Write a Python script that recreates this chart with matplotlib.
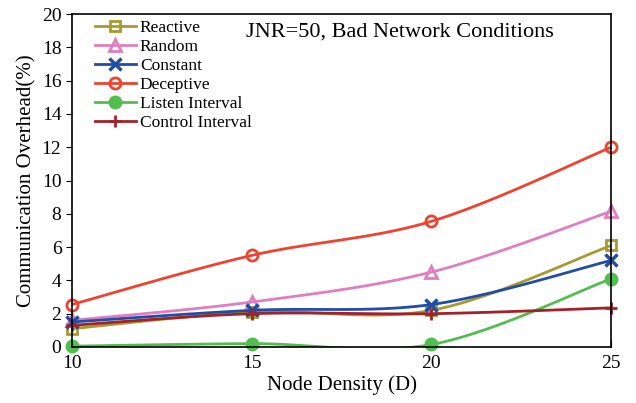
import numpy as np
import matplotlib.pyplot as plt

plt.rcParams['font.family'] = ['Liberation Serif', 'DejaVu Serif']

density = [10, 15, 20, 25]

reactive = [1.1, 2.1, 2.2, 6.1]
random_ = [1.6, 2.7, 4.5, 8.15]
constant = [1.5, 2.2, 2.55, 5.2]
deceptive = [2.55, 5.5, 7.55, 12.0]
listen = [0.05, 0.2, 0.15, 4.1]
control = [1.3, 2.0, 2.0, 2.35]


def smooth(x, y, n=40):
    # Bezier smoothing through every point (tangent = neighbour slope / 6)
    x = np.asarray(x, float)
    y = np.asarray(y, float)
    px = np.concatenate([[x[0]], x, [x[-1]]])
    py = np.concatenate([[y[0]], y, [y[-1]]])
    xs, ys = [], []
    t = np.linspace(0, 1, n)
    for i in range(1, len(px) - 2):
        p0 = np.array([px[i], py[i]])
        p3 = np.array([px[i + 1], py[i + 1]])
        p1 = p0 + (np.array([px[i + 1], py[i + 1]]) - np.array([px[i - 1], py[i - 1]])) / 6
        p2 = p3 - (np.array([px[i + 2], py[i + 2]]) - np.array([px[i], py[i]])) / 6
        b = ((1 - t) ** 3)[:, None] * p0 + (3 * (1 - t) ** 2 * t)[:, None] * p1 \
            + (3 * (1 - t) * t ** 2)[:, None] * p2 + (t ** 3)[:, None] * p3
        xs.append(b[:, 0])
        ys.append(b[:, 1])
    return np.concatenate(xs), np.concatenate(ys)


series = [
    ('Reactive', reactive, '#a89a2e', dict(marker='s', mfc='none', ms=7, mew=2)),
    ('Random', random_, '#e07ec0', dict(marker='^', mfc='none', ms=8, mew=2)),
    ('Constant', constant, '#1f4ea6', dict(marker='x', ms=8, mew=2.5)),
    ('Deceptive', deceptive, '#f0432f', dict(marker='o', mfc='none', ms=8, mew=2)),
    ('Listen Interval', listen, '#52be4f', dict(marker='o', ms=9)),
    ('Control Interval', control, '#a3222a', dict(marker='+', ms=9, mew=2)),
]

fig, ax = plt.subplots(figsize=(6.36, 4.03), dpi=100)
fig.subplots_adjust(left=0.113, right=0.961, top=0.965, bottom=0.139)

for name, vals, color, mk in series:
    sx, sy = smooth(density, vals)
    ax.plot(sx, sy, color=color, lw=2, clip_on=True)
    ax.plot(density, vals, color=color, lw=0, clip_on=False, **mk)
    ax.plot([], [], color=color, lw=2, label=name, **mk)

ax.set_xlim(10, 25)
ax.set_ylim(0, 20)
ax.set_xticks([10, 15, 20, 25])
ax.set_yticks(range(0, 21, 2))
ax.tick_params(axis='x', direction='in', length=5, labelsize=14, pad=6)
ax.tick_params(axis='y', direction='out', length=4, labelsize=14)
for s in ax.spines.values():
    s.set_linewidth(1.2)

ax.set_xlabel('Node Density (D)', fontsize=15, labelpad=2)
ax.set_ylabel('Communication Overhead(%)', fontsize=15)
ax.text(0.894, 0.945, 'JNR=50, Bad Network Conditions', transform=ax.transAxes,
        ha='right', va='center', fontsize=16)

ax.legend(loc='upper left', bbox_to_anchor=(0.02, 1.02), frameon=False, fontsize=12.5,
          handlelength=2.35, handletextpad=0.25, labelspacing=0.17, borderaxespad=0.3)

fig.savefig('out.png', dpi=100)
